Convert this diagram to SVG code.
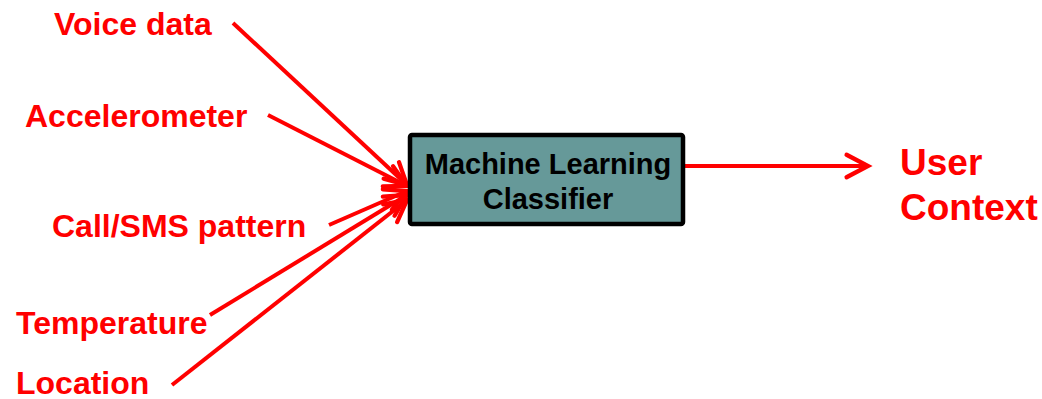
<svg xmlns="http://www.w3.org/2000/svg" width="1042" height="399" viewBox="0 0 1042 399">
<style>
.lbl{font-family:"Liberation Sans",Arial,sans-serif;font-weight:bold;font-size:32px;fill:#FF0000}
.out{font-family:"Liberation Sans",Arial,sans-serif;font-weight:bold;font-size:37px;fill:#FF0000}
.box{font-family:"Liberation Sans",Arial,sans-serif;font-weight:bold;font-size:29px;fill:#000}
.c{stroke:#FF0000;stroke-width:4;fill:none;marker-end:url(#ah)}
</style>
<defs>
<marker id="ah" markerUnits="userSpaceOnUse" markerWidth="30" markerHeight="30" viewBox="-24 -14 28 28" refX="0" refY="0" orient="auto" overflow="visible">
<path d="M-20,-10.5 L0,0 L-20,10.5" fill="none" stroke="#FF0000" stroke-width="4" stroke-linecap="round" stroke-linejoin="miter"/>
</marker>
</defs>
<g id="connectors">
<line class="c" x1="233" y1="23" x2="407" y2="185"/>
<line class="c" x1="268" y1="115" x2="407" y2="186"/>
<line class="c" x1="329" y1="225" x2="407" y2="191"/>
<line class="c" x1="210" y1="315" x2="407" y2="195"/>
<line class="c" x1="172" y1="385" x2="407" y2="200"/>
<line class="c" x1="685" y1="166" x2="868" y2="166"/>
</g>
<g id="classifier">
<rect x="410" y="135" width="273" height="89" rx="2" fill="#669999" stroke="#000" stroke-width="4.5"/>
<text class="box" x="548" y="174" text-anchor="middle">Machine Learning</text>
<text class="box" x="548" y="209" text-anchor="middle">Classifier</text>
</g>
<g id="voice"><text class="lbl" x="54" y="35">Voice data</text></g>
<g id="accel"><text class="lbl" x="25" y="127">Accelerometer</text></g>
<g id="call"><text class="lbl" x="52" y="237">Call/SMS pattern</text></g>
<g id="temp"><text class="lbl" x="16" y="334">Temperature</text></g>
<g id="loc"><text class="lbl" x="16" y="394">Location</text></g>
<g id="context">
<text class="out" x="900" y="175">User</text>
<text class="out" x="900" y="220">Context</text>
</g>
</svg>
